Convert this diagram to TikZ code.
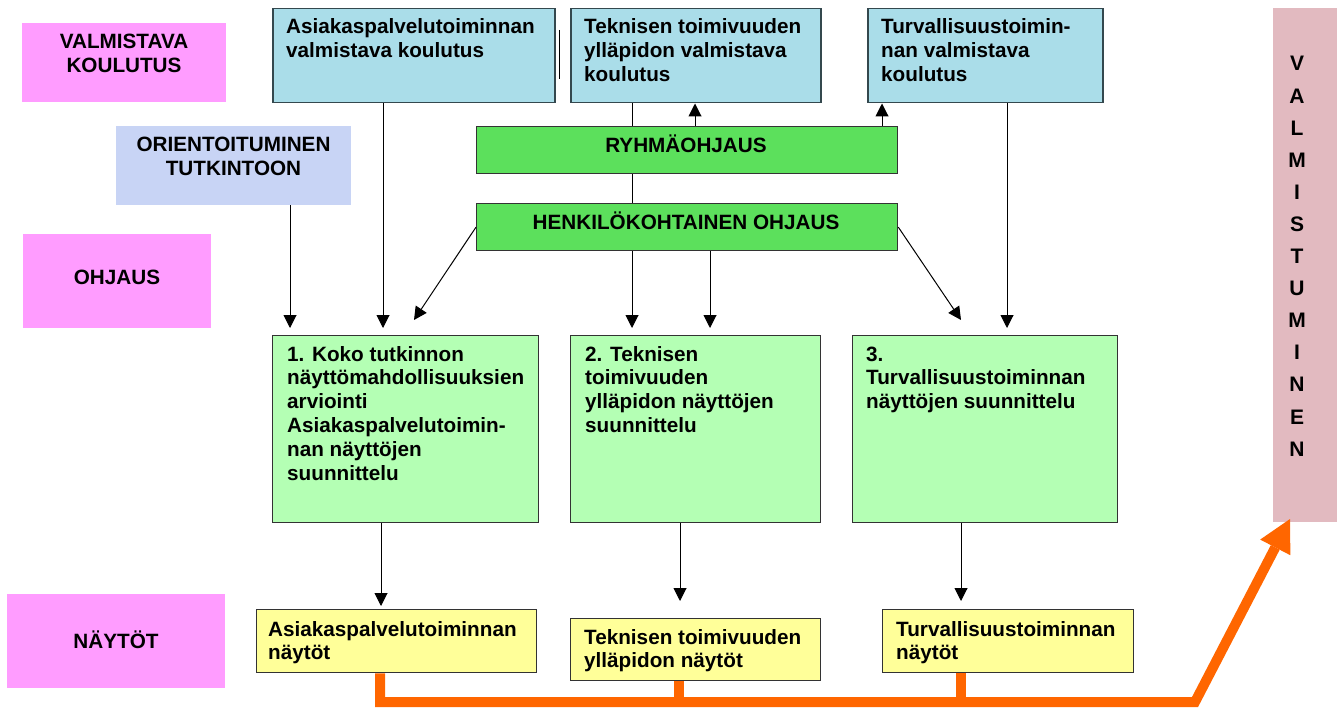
\documentclass[tikz,border=0pt]{standalone}
\usepackage{fontspec}
\setmainfont{Liberation Sans}
\usetikzlibrary{arrows.meta}
\definecolor{pinkL}{RGB}{255,156,255}
\definecolor{waterB}{RGB}{170,221,233}
\definecolor{waterE}{RGB}{52,72,78}
\definecolor{lavB}{RGB}{200,212,245}
\definecolor{greenD}{RGB}{92,224,92}
\definecolor{greenL}{RGB}{180,255,180}
\definecolor{yellowL}{RGB}{255,255,153}
\definecolor{roseB}{RGB}{226,186,192}
\definecolor{orangeA}{RGB}{255,102,0}
\newcommand\lbfont{\fontsize{20.7}{23.8}\selectfont\bfseries}
\begin{document}
\begin{tikzpicture}[x=1pt,y=-1pt,
  box/.style={draw=black!80,line width=1.3pt,inner sep=0pt,anchor=north west},
  wbox/.style={draw=waterE,line width=1.5pt,fill=waterB,inner sep=0pt,anchor=north west},
  plain/.style={inner sep=0pt,anchor=north west},
  txt/.style={inner sep=0pt,anchor=base west,font=\lbfont},
  ctxt/.style={inner sep=0pt,anchor=base,font=\lbfont},
  con/.style={draw=black,line width=1pt,-{Triangle[width=13pt,length=13pt]}},
  link/.style={draw=black,line width=1pt},
  obus/.style={draw=orangeA,line width=10pt,line join=miter},
]
\useasboundingbox (0,0) rectangle (1337,708);
% left labels
\node[plain,fill=pinkL,minimum width=204pt,minimum height=79pt] (Lv) at (22,23) {};
\node[ctxt] (Lvt) at (124,49) {\parbox[t]{200pt}{\centering VALMISTAVA\\KOULUTUS}};
\node[plain,fill=lavB,minimum width=235pt,minimum height=79pt] (Lo) at (116,126) {};
\node[ctxt] (Lot) at (233.5,152) {\parbox[t]{230pt}{\centering ORIENTOITUMINEN\\TUTKINTOON}};
\node[plain,fill=pinkL,minimum width=188pt,minimum height=94pt] (Lh) at (23,234) {};
\node[ctxt] (Lht) at (117,284) {OHJAUS};
\node[plain,fill=pinkL,minimum width=218pt,minimum height=94pt] (Ln) at (7,594) {};
\node[ctxt] (Lnt) at (116,648) {NÄYTÖT};
% top blue boxes
\node[wbox,minimum width=282pt,minimum height=94pt] (A) at (272,8) {};
\node[txt] (At) at (286,34) {\parbox[t]{260pt}{Asiakaspalvelutoiminnan\\valmistava koulutus}};
\node[wbox,minimum width=250pt,minimum height=94pt] (B) at (570,8) {};
\node[txt] (Bt) at (584,34) {\parbox[t]{240pt}{Teknisen toimivuuden\\ylläpidon valmistava\\koulutus}};
\node[wbox,minimum width=235pt,minimum height=94pt] (C) at (867,8) {};
\node[txt] (Ct) at (881,34) {\parbox[t]{220pt}{Turvallisuustoimin-\\nan valmistava\\koulutus}};
\draw[link] (559,30) -- (559,79);
% guidance boxes
\node[box,fill=greenD,minimum width=421pt,minimum height=47pt] (R) at (476,126) {};
\node[ctxt] (Rt) at (686,153) {RYHMÄOHJAUS};
\node[box,fill=greenD,minimum width=421pt,minimum height=47pt] (H) at (476,203) {};
\node[ctxt] (Ht) at (686,230) {HENKILÖKOHTAINEN OHJAUS};
% planning boxes
\node[box,fill=greenL,minimum width=266pt,minimum height=187pt] (b1) at (272,335) {};
\node[txt] (b1t) at (287,361) {\parbox[t]{250pt}{1. Koko tutkinnon\\näyttömahdollisuuksien\\arviointi\\Asiakaspalvelutoimin-\\nan näyttöjen\\suunnittelu}};
\node[box,fill=greenL,minimum width=250pt,minimum height=187pt] (b2) at (570,335) {};
\node[txt] (b2t) at (585,361) {\parbox[t]{240pt}{2. Teknisen\\toimivuuden\\ylläpidon näyttöjen\\suunnittelu}};
\node[box,fill=greenL,minimum width=265pt,minimum height=187pt] (b3) at (852,335) {};
\node[txt] (b3t) at (866,361) {\parbox[t]{250pt}{3.\\Turvallisuustoiminnan\\näyttöjen suunnittelu}};
% demonstration boxes
\node[box,fill=yellowL,minimum width=280pt,minimum height=63pt] (Y1) at (256,609) {};
\node[txt] (Y1t) at (268,636) {\parbox[t]{270pt}{Asiakaspalvelutoiminnan\\näytöt}};
\node[box,fill=yellowL,minimum width=250pt,minimum height=62pt] (Y2) at (570,618) {};
\node[txt] (Y2t) at (584,644) {\parbox[t]{240pt}{Teknisen toimivuuden\\ylläpidon näytöt}};
\node[box,fill=yellowL,minimum width=251pt,minimum height=63pt] (Y3) at (882,609) {};
\node[txt] (Y3t) at (896,636) {\parbox[t]{240pt}{Turvallisuustoiminnan\\näytöt}};
% graduation
\node[plain,fill=roseB,minimum width=64pt,minimum height=514pt] (V) at (1273,8) {};
\node[inner sep=0pt,anchor=base] (Vt) at (1297,71) {\parbox[t]{40pt}{\fontsize{21}{32.1}\selectfont\bfseries\centering V\\A\\L\\M\\I\\S\\T\\U\\M\\I\\N\\E\\N}};
% x positions
\coordinate (xO) at (290,0);
\coordinate (xA) at (383,0);
\coordinate (xB1) at (632,0);
\coordinate (xR1) at (695,0);
\coordinate (xH2) at (710,0);
\coordinate (xR2) at (882,0);
\coordinate (xC) at (1007,0);
\coordinate (x1) at (381,0);
\coordinate (x2) at (680,0);
\coordinate (x3) at (961,0);
\coordinate (d1) at (414,320);
\coordinate (d2) at (961,320);
% connectors
\draw[con,shorten >=7pt] (Lo.south -| xO) -- (b1.north -| xO);
\draw[con,shorten >=7pt] (A.south -| xA) -- (b1.north -| xA);
\draw[link] (B.south -| xB1) -- (R.north -| xB1);
\draw[link] (R.south -| xB1) -- (H.north -| xB1);
\draw[con,shorten >=7pt] (H.south -| xB1) -- (b2.north -| xB1);
\draw[con,shorten >=7pt] (H.south -| xH2) -- (b2.north -| xH2);
\draw[con] (R.north -| xR1) -- (B.south -| xR1);
\draw[con] (R.north -| xR2) -- (C.south -| xR2);
\draw[con,shorten >=7pt] (C.south -| xC) -- (b3.north -| xC);
\draw[con] (H.west) -- (d1);
\draw[con] (H.east) -- (d2);
\draw[con,shorten >=3pt] (b1.south -| x1) -- (Y1.north -| x1);
\draw[con,shorten >=17pt] (b2.south -| x2) -- (Y2.north -| x2);
\draw[con,shorten >=8pt] (b3.south -| x3) -- (Y3.north -| x3);
% orange path
\coordinate (xo1) at (380,0);
\coordinate (xo2) at (679,0);
\coordinate (xo3) at (961,0);
\coordinate (bus) at (1195,702);
\coordinate (tip) at (1290,519);
\draw[obus] (Y2.south -| xo2) -- (xo2 |- bus);
\draw[obus] (Y3.south -| xo3) -- (xo3 |- bus);
\draw[obus,-{Triangle[width=34pt,length=32pt,line width=0pt]}] (Y1.south -| xo1) -- (xo1 |- bus) -- (bus) -- (tip);
\end{tikzpicture}
\end{document}
